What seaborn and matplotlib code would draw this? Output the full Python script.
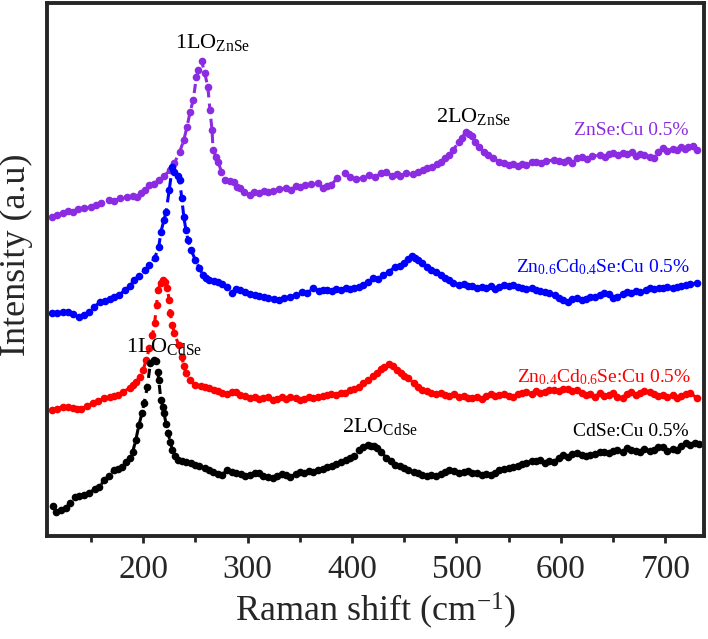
import matplotlib
matplotlib.use('Agg')
import matplotlib.pyplot as plt
import numpy as np
import pandas as pd
import seaborn as sns

# Raman shift (cm-1) and intensity (a.u.), curves already offset
znse_x = [113, 118, 123, 128, 133, 138, 143, 150, 155, 160, 167, 172, 178, 185, 190, 194, 198, 202, 206, 210,
          215, 220, 226, 230, 235, 239, 242, 245, 248, 251, 253, 256, 259, 262, 264, 266, 267, 270, 272, 275,
          278, 283, 287, 290, 293, 297, 302, 306, 311, 316, 320, 324, 330, 337, 342, 346, 350, 355, 361, 367,
          372, 376, 380, 386, 393, 398, 404, 411, 416, 422, 428, 433, 438, 443, 446, 452, 458, 463, 468, 472,
          477, 481, 485, 489, 493, 497, 502, 505, 509, 512, 515, 518, 522, 526, 530, 535, 541, 546, 550, 554,
          559, 563, 567, 572, 576, 581, 586, 593, 598, 603, 607, 611, 615, 620, 625, 630, 637, 642, 646, 650,
          655, 659, 663, 668, 672, 676, 680, 685, 689, 693, 698, 702, 707, 711, 715, 719, 722, 726, 730]
znse_y = [323, 325, 327, 329, 328, 331, 332, 333, 335, 337, 340, 339, 342, 343, 344, 343, 347, 350, 355, 356,
          360, 364, 370, 377, 388, 400, 413, 428, 440, 463, 470, 479, 467, 453, 430, 410, 390, 383, 378, 368,
          360, 359, 358, 353, 352, 348, 345, 348, 347, 349, 348, 349, 351, 352, 350, 354, 353, 355, 356, 357,
          352, 354, 355, 362, 367, 363, 361, 362, 365, 363, 367, 368, 364, 366, 364, 367, 366, 368, 370, 372,
          373, 376, 378, 382, 385, 390, 398, 402, 408, 406, 404, 398, 393, 388, 385, 382, 378, 377, 375, 376,
          374, 376, 375, 378, 378, 377, 379, 380, 379, 378, 380, 377, 382, 383, 381, 384, 385, 383, 386, 387,
          385, 387, 386, 388, 384, 386, 385, 383, 382, 388, 392, 389, 391, 390, 393, 391, 393, 394, 390]

zn06_x = [113, 118, 123, 128, 133, 139, 143, 148, 153, 159, 164, 168, 172, 177, 183, 187, 191, 196, 202, 206,
          211, 215, 217, 220, 222, 225, 228, 230, 233, 235, 237, 239, 241, 243, 246, 250, 254, 257, 260, 263,
          268, 272, 276, 280, 285, 289, 293, 298, 302, 307, 311, 316, 320, 325, 330, 335, 341, 346, 352, 357,
          363, 368, 372, 376, 381, 385, 389, 394, 398, 402, 407, 411, 415, 420, 425, 430, 435, 441, 446, 450,
          454, 457, 460, 463, 467, 472, 476, 480, 485, 489, 493, 497, 502, 507, 511, 515, 520, 524, 528, 533,
          537, 541, 546, 550, 554, 559, 563, 567, 572, 576, 580, 585, 589, 594, 598, 602, 607, 611, 615, 620,
          624, 628, 633, 637, 641, 646, 650, 654, 659, 663, 667, 672, 676, 681, 685, 689, 694, 698, 702, 707,
          711, 715, 720, 724, 730]
zn06_y = [227, 227, 228, 228, 226, 223, 225, 228, 233, 238, 239, 241, 243, 245, 250, 254, 260, 264, 270, 275,
          282, 293, 308, 320, 328, 350, 373, 368, 364, 360, 342, 323, 310, 300, 290, 280, 272, 265, 262, 260,
          259, 258, 256, 253, 247, 251, 250, 248, 246, 245, 244, 243, 242, 241, 240, 242, 243, 245, 248, 247,
          252, 249, 250, 250, 249, 251, 250, 252, 251, 252, 253, 255, 258, 262, 261, 265, 268, 273, 274, 277,
          281, 284, 282, 280, 277, 273, 270, 268, 265, 262, 260, 257, 255, 256, 254, 254, 252, 253, 252, 254,
          251, 253, 255, 254, 255, 253, 252, 251, 252, 250, 249, 248, 247, 245, 242, 240, 238, 241, 242, 240,
          241, 243, 243, 245, 247, 246, 242, 243, 246, 248, 247, 249, 248, 250, 252, 251, 252, 252, 253, 252,
          253, 254, 255, 256, 257]

zn04_x = [113, 118, 123, 128, 133, 137, 141, 146, 152, 157, 163, 168, 172, 176, 181, 187, 190, 193, 197, 200,
          203, 206, 209, 211, 213, 214, 217, 219, 221, 223, 225, 226, 228, 230, 234, 237, 239, 241, 245, 250,
          255, 259, 263, 268, 272, 276, 280, 285, 289, 293, 298, 302, 307, 311, 315, 320, 324, 328, 333, 337,
          341, 346, 350, 354, 359, 363, 367, 372, 376, 380, 385, 389, 393, 398, 402, 407, 411, 415, 420, 424,
          428, 431, 435, 439, 443, 447, 450, 454, 459, 463, 467, 472, 476, 480, 485, 489, 493, 498, 502, 507,
          511, 515, 520, 524, 528, 533, 537, 541, 546, 550, 554, 559, 563, 567, 572, 576, 580, 585, 589, 593,
          598, 602, 607, 611, 615, 620, 624, 628, 633, 637, 641, 646, 650, 654, 659, 663, 667, 672, 676, 680,
          685, 689, 693, 698, 702, 707, 711, 715, 720, 724, 730]
zn04_y = [130, 131, 133, 133, 132, 131, 131, 134, 137, 139, 142, 143, 144, 145, 148, 152, 155, 158, 163, 170,
          180, 192, 205, 217, 235, 250, 257, 260, 258, 252, 240, 227, 215, 207, 195, 183, 174, 167, 160, 155,
          154, 153, 152, 150, 149, 147, 146, 148, 148, 145, 144, 142, 143, 141, 142, 143, 140, 141, 143, 141,
          143, 142, 140, 141, 143, 142, 143, 144, 145, 146, 145, 147, 147, 150, 151, 153, 157, 160, 164, 167,
          171, 173, 176, 174, 170, 167, 164, 162, 157, 153, 150, 149, 147, 146, 147, 145, 144, 146, 143, 144,
          142, 142, 143, 141, 144, 146, 144, 145, 146, 144, 143, 146, 147, 148, 146, 149, 147, 148, 150, 150,
          149, 151, 151, 149, 150, 147, 145, 146, 143, 147, 144, 145, 147, 143, 142, 146, 148, 145, 147, 149,
          148, 146, 144, 145, 143, 145, 142, 144, 146, 147, 142]

cdse_x = [114, 117, 121, 126, 130, 135, 139, 143, 148, 154, 158, 163, 167, 172, 176, 180, 184, 187, 190, 193,
          196, 199, 201, 204, 207, 210, 212, 214, 215, 217, 219, 220, 222, 224, 226, 228, 231, 233, 237, 241,
          246, 250, 254, 259, 263, 267, 272, 276, 280, 285, 289, 294, 298, 302, 307, 311, 315, 320, 324, 328,
          333, 337, 341, 346, 350, 354, 359, 363, 367, 372, 376, 381, 385, 389, 394, 398, 402, 407, 411, 415,
          418, 421, 424, 428, 433, 437, 441, 446, 450, 454, 459, 463, 467, 472, 476, 480, 485, 489, 493, 498,
          502, 507, 511, 515, 520, 524, 528, 533, 537, 541, 546, 550, 554, 559, 563, 567, 572, 576, 580, 585,
          589, 593, 598, 602, 607, 611, 615, 620, 624, 628, 633, 637, 641, 646, 650, 654, 659, 663, 667, 672,
          676, 680, 685, 689, 693, 698, 702, 707, 711, 715, 720, 724, 728, 732]
cdse_y = [34, 28, 30, 32, 37, 43, 44, 45, 47, 51, 53, 60, 64, 70, 71, 73, 78, 82, 88, 100,
          115, 127, 137, 153, 177, 180, 179, 168, 160, 140, 133, 127, 116, 107, 98, 90, 84, 80, 79, 78,
          77, 75, 74, 72, 70, 68, 66, 65, 70, 68, 67, 66, 64, 65, 67, 67, 64, 63, 62, 64,
          66, 65, 63, 66, 68, 67, 69, 68, 70, 71, 73, 74, 76, 78, 80, 82, 84, 90, 93, 95,
          94, 94, 92, 88, 82, 79, 75, 74, 72, 70, 68, 67, 65, 64, 65, 64, 66, 68, 70, 69,
          67, 68, 69, 67, 67, 65, 66, 65, 67, 70, 71, 72, 73, 74, 76, 77, 79, 79, 80, 77,
          79, 78, 82, 85, 83, 86, 87, 85, 84, 85, 86, 88, 88, 87, 89, 90, 88, 92, 90, 89,
          88, 91, 89, 90, 93, 93, 89, 91, 90, 94, 97, 95, 97, 96]

series_names = ['ZnSe:Cu 0.5%', 'Zn0.6Cd0.4Se:Cu 0.5%', 'Zn0.4Cd0.6Se:Cu 0.5%', 'CdSe:Cu 0.5%']
series_labels = ['ZnSe:Cu 0.5%', r'Zn$_{0.6}$Cd$_{0.4}$Se:Cu 0.5%',
                 r'Zn$_{0.4}$Cd$_{0.6}$Se:Cu 0.5%', 'CdSe:Cu 0.5%']
series_colors = ['#8B2BE2', '#0000FF', '#FF0000', '#000000']
series_x = [znse_x, zn06_x, zn04_x, cdse_x]
series_y = [znse_y, zn06_y, zn04_y, cdse_y]
# where each sample name sits (right edge x, baseline y)
label_pos = [(722, 405), (724, 268), (725, 158), (722, 104)]

# phonon mode annotations
mode_text = [r'1LO$_{\mathrm{ZnSe}}$', r'2LO$_{\mathrm{ZnSe}}$', r'1LO$_{\mathrm{CdSe}}$', r'2LO$_{\mathrm{CdSe}}$']
mode_pos = [(231, 492), (480, 418), (184, 188), (390, 108)]

sns.set_style('ticks')
plt.rcParams['font.family'] = ['Liberation Serif', 'DejaVu Serif']
plt.rcParams['mathtext.fontset'] = 'custom'
plt.rcParams['mathtext.rm'] = 'Liberation Serif'
plt.rcParams['mathtext.it'] = 'Liberation Serif'

frames = []
for name, xs, ys in zip(series_names, series_x, series_y):
    frames.append(pd.DataFrame({'shift': xs, 'intensity': ys, 'sample': name}))
df = pd.concat(frames, ignore_index=True)

fig = plt.figure(figsize=(7.08, 6.39), dpi=100)
ax = fig.add_axes([47 / 708, 1 - 536 / 639, 657 / 708, 533 / 639])

for name, color in zip(series_names, series_colors):
    sub = df[df['sample'] == name]
    sns.lineplot(data=sub, x='shift', y='intensity', color=color, estimator=None, sort=True,
                 marker='o', markersize=5.5, markeredgewidth=0, linewidth=2.2,
                 linestyle=(0, (3, 2)), ax=ax)

for lab, color, (lx, ly) in zip(series_labels, series_colors, label_pos):
    ax.text(lx, ly, lab, color=color, fontsize=14, ha='right', va='baseline')

for txt, (mx, my) in zip(mode_text, mode_pos):
    ax.text(mx, my, txt, color='black', fontsize=16, ha='left', va='baseline')

ax.set_xlim(108, 737)
ax.set_ylim(4, 537)
ax.set_xticks([200, 300, 400, 500, 600, 700])
ax.set_xticks([150, 250, 350, 450, 550, 650], minor=True)
ax.set_yticks([])
ax.tick_params(axis='x', which='major', direction='out', length=5, width=2, labelsize=24, pad=8)
ax.tick_params(axis='x', which='minor', direction='out', length=4, width=2)
for sp in ax.spines.values():
    sp.set_linewidth(2.8)
    sp.set_visible(True)

ax.set_xlabel(r'Raman shift (cm$^{-1}$)', fontsize=26, labelpad=4)
ax.set_ylabel('Intensity (a.u)', fontsize=26)
ax.yaxis.set_label_coords(-0.022, 0.527)

fig.savefig('out.png', dpi=100)
